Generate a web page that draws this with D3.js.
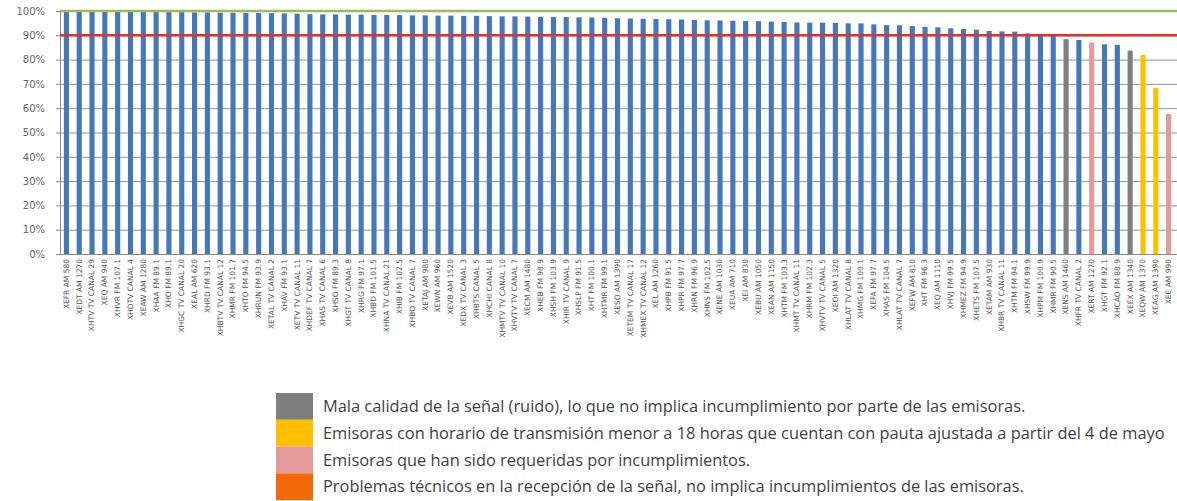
<!DOCTYPE html>
<html>
<head>
<meta charset="utf-8">
<script src="https://cdn.jsdelivr.net/npm/d3@7"></script>
<style>
  body { margin: 0; background: #fff; }
  svg { display: block; }
</style>
</head>
<body>
<div id="chart"></div>
<script>
// Station compliance chart (sorted bars with 90% / 100% reference lines)
const stations = [
  "XEFR AM 580", "XEDT AM 1270", "XHTV TV CANAL 29", "XEQ AM 940", "XHVR FM 107.1",
  "XHDTV CANAL 4", "XEAW AM 1280", "XHAA FM 89.1", "XHO FM 89.1", "XHGC TV CANAL 20",
  "XEAL AM 620", "XHRD FM 93.1", "XHBTV TV CANAL 12", "XHMR FM 101.7", "XHTO FM 94.5",
  "XHRUN FM 93.9", "XETAL TV CANAL 2", "XHAV FM 93.1", "XETV TV CANAL 11", "XHDEF TV CANAL 7",
  "XHAS TV CANAL 6", "XHSO FM 89.3", "XHGT TV CANAL 8", "XHRG FM 97.1", "XHBD FM 101.5",
  "XHNA TV CANAL 21", "XHIB FM 102.5", "XHBO TV CANAL 7", "XETAJ AM 980", "XEWN AM 960",
  "XEVB AM 1520", "XEDX TV CANAL 3", "XHBTS CANAL 5", "XHCHI CANAL 8", "XHMTV TV CANAL 10",
  "XHVTV TV CANAL 7", "XECM AM 1480", "XHEB FM 98.9", "XHSH FM 103.9", "XHIR TV CANAL 9",
  "XHSLP FM 91.5", "XHT FM 100.1", "XHTMR FM 99.1", "XESO AM 1390", "XETEM TV CANAL 17",
  "XHMEX TV CANAL 12", "XEL AM 1260", "XHPB FM 91.5", "XHPR FM 97.7", "XHRN FM 96.9",
  "XHNS FM 102.5", "XENE AM 1030", "XEUA AM 710", "XEI AM 830", "XEBU AM 1050",
  "XEAN AM 1150", "XHTM FM 103.3", "XHMT TV CANAL 11", "XHRM FM 102.3", "XHVTV TV CANAL 5",
  "XEOI AM 1320", "XHLAT TV CANAL 8", "XHMG FM 100.1", "XEFA FM 97.7", "XHAS FM 104.5",
  "XHLAT TV CANAL 7", "XEFW AM 810", "XHT FM 96.3", "XEQ AM 1110", "XHVJ FM 99.5",
  "XHMEZ FM 94.9", "XHETS FM 107.5", "XETAM AM 930", "XHBR TV CANAL 11", "XHTM FM 94.1",
  "XHSW FM 99.9", "XHPM FM 100.9", "XHMR FM 90.5", "XENS AM 1460", "XHFR TV CANAL 2",
  "XERT AM 1270", "XHGT FM 92.1", "XHCAO FM 88.9", "XEEX AM 1340", "XEQW AM 1370",
  "XEAG AM 1390", "XEE AM 990"
];

const compliance = [
  99.8, 99.8, 99.7, 99.7, 99.7, 99.6, 99.6, 99.6, 99.5, 99.5,
  99.4, 99.4, 99.3, 99.3, 99.2, 99.2, 99.1, 99.0, 98.9,
  98.7, 98.6, 98.6, 98.5, 98.5, 98.4, 98.4,
  98.3, 98.2, 98.2, 98.1, 98.1, 98.0, 98.0,
  97.9, 97.8, 97.8, 97.7, 97.6, 97.5, 97.5, 97.4, 97.3, 97.2,
  97.0, 96.9, 96.8, 96.7, 96.6, 96.5,
  96.3, 96.2, 96.1, 96.0, 95.9, 95.8,
  95.6, 95.5, 95.3, 95.2, 95.2, 95.1, 94.9, 94.9,
  94.5, 94.2, 94.1, 93.8, 93.5, 93.3, 92.9, 92.6,
  92.3, 91.8, 91.6, 91.5, 90.8, 90.5, 90.3, 88.4,
  88.1, 87.0, 86.3, 86.1, 83.7, 81.9, 68.4, 57.6
];

// bars with a special status (index -> legend key)
const specialBars = { 78: "ruido", 80: "requerida", 83: "ruido", 84: "horario", 85: "horario", 86: "requerida" };

const yTicks = [0, 10, 20, 30, 40, 50, 60, 70, 80, 90, 100];
const targetLine = 90;
const maxLine = 100;

const legendKeys = ["ruido", "horario", "requerida", "tecnico"];
const legendLabels = [
  "Mala calidad de la señal (ruido), lo que no implica incumplimiento por parte de las emisoras.",
  "Emisoras con horario de transmisión menor a 18 horas que cuentan con pauta ajustada a partir del 4 de mayo",
  "Emisoras que han sido requeridas por incumplimientos.",
  "Problemas técnicos en la recepción de la señal, no implica incumplimientos de las emisoras."
];

const colors = {
  normal: "#4678b9",
  ruido: "#7f7f7f",
  horario: "#ffc000",
  requerida: "#e39a9a",
  tecnico: "#f06a0a"
};

const data = stations.map((s, i) => ({ name: s, value: compliance[i], status: specialBars[i] || "normal" }));

const W = 1177, H = 501;
const plot = { left: 60, right: 1175, top: 11, bottom: 254 };

const svg = d3.select("#chart")
  .append("svg")
  .attr("width", W)
  .attr("height", H);

const x = d3.scaleBand()
  .domain(data.map(d => d.name))
  .range([plot.left, plot.right])
  .paddingInner(0.6)
  .paddingOuter(0.3);

const y = d3.scaleLinear()
  .domain([0, 100])
  .range([plot.bottom, plot.top]);

// gridlines
svg.append("g")
  .selectAll("line")
  .data(yTicks)
  .join("line")
  .attr("x1", plot.left)
  .attr("x2", W)
  .attr("y1", d => y(d) + 0.5)
  .attr("y2", d => y(d) + 0.5)
  .attr("stroke", "#8f95a0")
  .attr("stroke-width", 1);

// y axis
const yAxis = d3.axisLeft(y)
  .tickValues(yTicks)
  .tickSize(4)
  .tickFormat(d => d + "%");

svg.append("g")
  .attr("class", "y-axis")
  .attr("transform", `translate(${plot.left},0)`)
  .call(yAxis)
  .call(g => g.select(".domain").attr("stroke", "#8a8a8a"))
  .call(g => g.selectAll(".tick line").attr("stroke", "#8a8a8a"))
  .call(g => g.selectAll("text")
    .attr("x", -15)
    .style("font-family", "DejaVu Sans")
    .style("font-size", "10px")
    .attr("fill", "#666"));

// bars
svg.append("g")
  .selectAll("rect")
  .data(data)
  .join("rect")
  .attr("x", d => x(d.name))
  .attr("y", d => y(d.value))
  .attr("width", x.bandwidth())
  .attr("height", d => y(0) - y(d.value))
  .attr("fill", d => colors[d.status]);

// x axis with rotated station names
const xAxis = d3.axisBottom(x).tickSize(0).tickSizeOuter(0);

svg.append("g")
  .attr("class", "x-axis")
  .attr("transform", `translate(0,${plot.bottom})`)
  .call(xAxis)
  .call(g => g.select(".domain").attr("stroke", "#8a8a8a"))
  .call(g => g.selectAll("text")
    .attr("transform", "rotate(-90)")
    .attr("x", -5)
    .attr("y", 0)
    .attr("dy", "0.32em")
    .attr("text-anchor", "end")
    .style("font-family", "DejaVu Sans")
    .style("font-size", "7.5px")
    .attr("fill", "#555"));

// reference lines
svg.append("line")
  .attr("x1", plot.left).attr("x2", W)
  .attr("y1", y(maxLine)).attr("y2", y(maxLine))
  .attr("stroke", "#9bbb59")
  .attr("stroke-width", 2.5);

svg.append("line")
  .attr("x1", plot.left).attr("x2", W)
  .attr("y1", y(targetLine)).attr("y2", y(targetLine))
  .attr("stroke", "#e5302a")
  .attr("stroke-width", 2.5);

// legend
const legend = svg.append("g").attr("transform", "translate(276,393)");
const rowH = 26.8;

legend.selectAll("rect")
  .data(legendKeys)
  .join("rect")
  .attr("x", 0)
  .attr("y", (d, i) => i * rowH)
  .attr("width", 37)
  .attr("height", rowH)
  .attr("fill", d => colors[d]);

legend.selectAll("text")
  .data(legendLabels)
  .join("text")
  .attr("x", 47)
  .attr("y", (d, i) => i * rowH + rowH / 2 + 5.5)
  .style("font-family", "Open Sans")
  .style("font-size", "16.4px")
  .attr("fill", "#3f3f3f")
  .text(d => d);
</script>
</body>
</html>
